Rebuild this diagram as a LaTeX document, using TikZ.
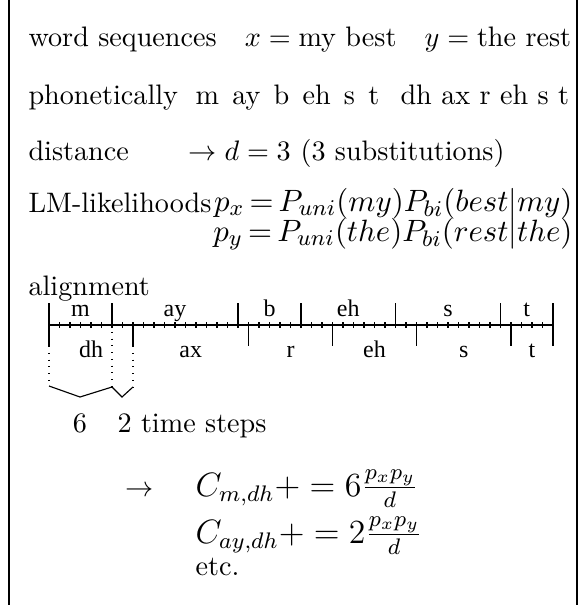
\documentclass[tikz,border=0pt]{standalone}
\usepackage{amsmath}
\usepackage{fontspec}
\newfontfamily\phonefont{Liberation Serif}
\usetikzlibrary{calc}

\tikzset{
  txt/.style={anchor=base west,inner sep=0pt},
  wide/.style={txt,execute at begin node={\spaceskip=4.7pt plus 1pt}},
  lmath/.style={inner sep=0pt,font=\fontsize{10.95}{13.6}\selectfont,
    execute at begin node={\thickmuskip=3mu}},
  phone/.style={anchor=base,inner sep=0pt,font=\phonefont\fontsize{8.5}{10}\selectfont},
  frame/.style={line width=0.75pt}
}

\begin{document}
\begin{tikzpicture}[x=0.355pt,y=-0.355pt,line width=0.4pt]
\useasboundingbox (0,0) rectangle (582,605);
\draw[frame] (9,0)--(9,605);
\draw[frame] (577,0)--(577,605);
% text rows
\node[txt] (wordseq) at (28,46) {word sequences\quad $x=\mbox{my best}$\quad $y=\mbox{the rest}$};
\node[txt] (phon) at (28,104) {phonetically};
\node[wide] (xphon) at (195,104) {m ay b eh s t};
\node[txt] (yphon) at (400,104) {dh ax r eh s t};
\node[txt] (dist) at (28,160) {distance};
\node[txt] (dval) at (188,160) {$\rightarrow d=3$};
\node[txt] (subst) at (300,160) {(3 substitutions)};
\node[txt] (lm) at (28,212) {LM-likelihoods};
\node[lmath,anchor=base east] (px) at (573,211) {$p_x=P_{uni}(my)P_{bi}(best|my)$};
\node[lmath,anchor=base east] (py) at (573,241) {$p_y=P_{uni}(the)P_{bi}(rest|the)$};
\node[txt] (align) at (28,295) {alignment};
% time axis
\draw (49,325)--(553,325);
\foreach \i in {0,...,48} \draw ({49+\i*10.5},322)--({49+\i*10.5},328);
\foreach \i in {0,6,18,24,33,43,48} \draw ({49+\i*10.5},303)--({49+\i*10.5},325);
\foreach \i in {0,8,19,27,35,44,48} \draw ({49+\i*10.5},325)--({49+\i*10.5},346);
\foreach \a/\b/\p in {0/6/m,6/18/ay,18/24/b,24/33/eh,33/43/s,43/48/t}
  \node[phone] (up\a) at ({49+(\a+\b)/2*10.5},316) {\p};
\foreach \a/\b/\p in {0/8/dh,8/19/ax,19/27/r,27/35/eh,35/44/s,44/48/t}
  \node[phone] (dn\a) at ({49+(\a+\b)/2*10.5},357) {\p};
% overlap of m/dh and ay/dh
\draw[dotted] (49,346)--(49,386);
\draw[dotted] (112,325)--(112,387);
\draw[dotted] (133,346)--(133,387);
\draw (49,386)--(80,397)--(112,387)--(122,397)--(133,387);
\node[anchor=base,inner sep=0pt] (six) at (80,432) {6};
\node[txt] (two) at (117,432) {2 time steps};
% counts
\node[txt] (arr) at (125,496) {$\rightarrow$};
\node[txt,font=\large] (cm) at (195,496) {$C_{m,dh}+=6\frac{p_xp_y}{d}$};
\node[txt,font=\large] (cay) at (195,543) {$C_{ay,dh}+=2\frac{p_xp_y}{d}$};
\node[txt] (etc) at (195,575) {etc.};
\end{tikzpicture}
\end{document}
